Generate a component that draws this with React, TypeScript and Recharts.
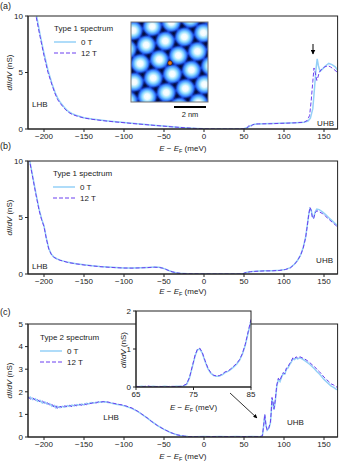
import React from 'react'
import { LineChart, Line, XAxis, YAxis } from 'recharts'

const energyTicks = [-200, -150, -100, -50, 0, 50, 100, 150]
const type1Ticks = [0, 5, 10]
const type2Ticks = [0, 1, 2, 3, 4, 5]
const insetXTicks = [65, 75, 85]
const insetYTicks = [0, 1, 2]

// (a) type 1 spectrum, 0 T and 12 T
const aE0 = [-222, -216, -210, -205, -200, -195, -190, -186, -183, -180, -175, -170, -165, -160, -150, -140, -130, -120, -110, -100, -90, -80, -70, -60, -50, -40, -30, -20, -10, 0, 10, 20, 30, 40, 50, 55, 58, 62, 66, 75, 85, 95, 105, 115, 125, 130, 133, 136, 138, 140, 141.5, 143, 145, 148, 152, 156, 160, 164, 167]
const aV0 = [13.8, 12.0, 10.3, 8.4, 6.7, 5.2, 4.0, 3.2, 2.75, 2.4, 1.95, 1.58, 1.36, 1.22, 1.0, 0.88, 0.79, 0.71, 0.64, 0.57, 0.5, 0.44, 0.38, 0.32, 0.26, 0.2, 0.14, 0.09, 0.05, 0.02, 0.01, 0, 0, 0, 0.02, 0.15, 0.3, 0.4, 0.45, 0.46, 0.48, 0.5, 0.53, 0.56, 0.6, 0.7, 0.95, 1.8, 3.5, 5.3, 6.2, 5.6, 5.1, 5.3, 5.6, 5.8, 5.7, 5.5, 5.2]
const aE12 = [-222, -216, -210, -205, -200, -195, -190, -186, -183, -180, -175, -170, -165, -160, -150, -140, -130, -120, -110, -100, -90, -80, -70, -60, -50, -40, -30, -20, -10, 0, 10, 20, 30, 40, 50, 54, 56, 58, 61, 64, 68, 75, 85, 95, 105, 115, 125, 129, 132, 134, 136, 137.5, 139, 141, 142.5, 144, 147, 151, 155, 158, 162, 167]
const aV12 = [13.5, 11.8, 10.0, 8.2, 6.5, 5.0, 3.9, 3.1, 2.6, 2.3, 1.85, 1.5, 1.3, 1.17, 0.97, 0.86, 0.77, 0.69, 0.62, 0.56, 0.49, 0.43, 0.37, 0.31, 0.25, 0.19, 0.14, 0.09, 0.05, 0.02, 0.01, 0, 0, 0, 0.02, 0.1, 0.3, 0.2, 0.38, 0.44, 0.45, 0.46, 0.47, 0.5, 0.52, 0.55, 0.6, 0.75, 1.2, 2.5, 4.2, 5.4, 5.0, 4.3, 4.6, 5.0, 5.3, 5.5, 5.6, 5.5, 5.3, 5.0]

// (b) type 1 spectrum, another site
const bE = [-222, -218, -214, -210, -206, -203, -200, -197, -194, -191, -188, -184, -180, -170, -160, -150, -140, -130, -120, -110, -100, -90, -80, -70, -62, -56, -52, -48, -44, -40, -35, -30, -20, -10, 0, 10, 20, 30, 40, 48, 51, 54, 58, 65, 75, 85, 95, 102, 108, 113, 117, 121, 124, 127, 129, 131, 132.5, 134, 135.5, 137, 139, 141, 144, 148, 152, 156, 160, 164, 167]
const bV0 = [11.4, 10.1, 8.6, 7.1, 5.7, 4.9, 4.25, 3.15, 2.25, 1.78, 1.52, 1.35, 1.23, 1.03, 0.91, 0.81, 0.73, 0.66, 0.61, 0.57, 0.54, 0.53, 0.55, 0.58, 0.61, 0.59, 0.53, 0.43, 0.31, 0.2, 0.11, 0.06, 0.02, 0.01, 0, 0, 0, 0, 0, 0, 0.1, 0.16, 0.21, 0.25, 0.28, 0.29, 0.33, 0.41, 0.56, 0.86, 1.22, 1.72, 2.35, 3.25, 4.25, 5.3, 5.8, 5.7, 5.1, 5.0, 5.5, 5.75, 5.7, 5.5, 5.25, 4.98, 4.72, 4.47, 4.27]
const bV12 = [11.3, 10.0, 8.5, 7.0, 5.6, 4.8, 4.2, 3.1, 2.2, 1.75, 1.5, 1.33, 1.22, 1.02, 0.9, 0.8, 0.72, 0.65, 0.6, 0.56, 0.53, 0.52, 0.54, 0.57, 0.6, 0.58, 0.52, 0.42, 0.3, 0.2, 0.11, 0.06, 0.02, 0.01, 0, 0, 0, 0, 0, 0, 0.1, 0.15, 0.2, 0.24, 0.27, 0.28, 0.32, 0.4, 0.55, 0.85, 1.2, 1.7, 2.3, 3.2, 4.2, 5.3, 5.9, 5.6, 5.0, 4.9, 5.4, 5.6, 5.5, 5.35, 5.1, 4.85, 4.6, 4.35, 4.15]

// (c) type 2 spectrum
const cE = [-220, -217, -214, -211, -208, -205, -202, -199, -196, -193, -190, -187, -185, -183, -180, -177, -174, -171, -168, -165, -162, -159, -156, -153, -150, -147, -144, -141, -138, -135, -132, -129, -126, -123, -120, -117, -114, -110, -106, -102, -98, -94, -90, -86, -82, -78, -74, -70, -66, -62, -58, -54, -50, -46, -42, -38, -34, -30, -25, -20, -10, 0, 10, 20, 30, 40, 50, 60, 70, 73, 74.5, 76, 77.5, 79, 81, 83, 84, 85, 86, 87.5, 89, 91, 93, 95, 97, 99, 101, 103, 105, 107, 109, 111, 113, 115, 117, 120, 123, 126, 129, 132, 135, 138, 141, 144, 147, 150, 153, 156, 159, 162, 165, 168, 170]
const cV0 = [1.72, 1.76, 1.65, 1.7, 1.58, 1.62, 1.5, 1.55, 1.45, 1.48, 1.36, 1.4, 1.28, 1.35, 1.3, 1.36, 1.32, 1.39, 1.35, 1.41, 1.37, 1.44, 1.41, 1.46, 1.42, 1.49, 1.46, 1.52, 1.49, 1.54, 1.53, 1.56, 1.55, 1.56, 1.53, 1.51, 1.48, 1.45, 1.43, 1.4, 1.36, 1.31, 1.26, 1.19, 1.11, 1.01, 0.91, 0.81, 0.7, 0.6, 0.5, 0.42, 0.34, 0.27, 0.2, 0.15, 0.1, 0.07, 0.04, 0.02, 0.01, 0.02, 0.01, 0.02, 0.01, 0.02, 0.01, 0.02, 0.01, 0.05, 0.48, 0.98, 0.52, 0.3, 0.38, 0.62, 1.05, 1.7, 1.55, 1.2, 1.55, 2.25, 2.55, 2.45, 2.65, 2.8, 2.78, 3.0, 3.05, 3.2, 3.3, 3.45, 3.42, 3.5, 3.46, 3.5, 3.45, 3.38, 3.3, 3.22, 3.12, 3.02, 2.9, 2.8, 2.68, 2.55, 2.45, 2.35, 2.25, 2.2, 2.12, 2.08, 2.05]
const cV12 = [1.78, 1.68, 1.74, 1.62, 1.66, 1.55, 1.6, 1.48, 1.52, 1.42, 1.45, 1.3, 1.38, 1.25, 1.36, 1.3, 1.38, 1.33, 1.4, 1.34, 1.42, 1.38, 1.45, 1.4, 1.47, 1.43, 1.5, 1.48, 1.53, 1.5, 1.56, 1.54, 1.57, 1.55, 1.55, 1.52, 1.5, 1.47, 1.44, 1.42, 1.38, 1.33, 1.28, 1.2, 1.12, 1.02, 0.92, 0.82, 0.7, 0.6, 0.5, 0.42, 0.34, 0.27, 0.2, 0.15, 0.1, 0.07, 0.04, 0.02, 0.01, 0.01, 0.02, 0.01, 0.02, 0.01, 0.02, 0.01, 0.02, 0.05, 0.5, 1.0, 0.5, 0.3, 0.4, 0.65, 1.1, 1.75, 1.6, 1.25, 1.6, 2.3, 2.6, 2.5, 2.7, 2.85, 2.8, 3.05, 3.1, 3.25, 3.35, 3.5, 3.45, 3.55, 3.5, 3.55, 3.5, 3.45, 3.38, 3.3, 3.2, 3.12, 3.0, 2.9, 2.78, 2.65, 2.55, 2.45, 2.35, 2.3, 2.22, 2.2, 2.15]

// (c) inset, 65-85 meV
const iE = [65, 66, 67, 68, 69, 70, 71, 72, 73, 73.8, 74.3, 74.8, 75.3, 75.7, 76.1, 76.5, 77, 77.5, 78, 78.5, 79, 79.5, 80, 80.5, 81, 81.5, 82, 82.5, 83, 83.5, 84, 84.5, 85]
const iV0 = [0.0, 0.02, 0.0, 0.02, 0.0, 0.02, 0.0, 0.02, 0.01, 0.07, 0.24, 0.53, 0.83, 0.98, 1.0, 0.9, 0.68, 0.48, 0.36, 0.3, 0.28, 0.29, 0.32, 0.38, 0.41, 0.46, 0.53, 0.6, 0.7, 0.86, 1.1, 1.42, 1.74]
const iV12 = [0.02, 0.0, 0.03, 0.0, 0.02, 0.0, 0.02, 0.01, 0.02, 0.08, 0.25, 0.55, 0.85, 1.0, 1.02, 0.92, 0.7, 0.5, 0.38, 0.31, 0.29, 0.3, 0.34, 0.4, 0.42, 0.48, 0.55, 0.62, 0.72, 0.88, 1.12, 1.45, 1.78]

const zip = (es: number[], vs: number[]) => es.map((e, i) => ({ e, v: vs[i] }))

const C0 = '#95d0f7'
const C12 = '#6a3ff0'
const INK = '#222'
const FONT = '"Liberation Sans", Arial, Helvetica, sans-serif'
const TICK = 8
const minus = (v: number) => String(v).replace('-', '\u2212')

function Panel({ top, d0, d12, yMax, yTicks }: { top: number; d0: any[]; d12: any[]; yMax: number; yTicks: number[] }) {
  return (
    <div style={{ position: 'absolute', left: 0, top }}>
      <LineChart width={339} height={149} margin={{ top: 16, right: 1.4, bottom: 0, left: 0 }}>
        <XAxis type="number" dataKey="e" domain={[-220, 167]} ticks={energyTicks} interval={0} allowDataOverflow
          height={20} tickSize={3} tickMargin={1} stroke={INK} tick={{ fontSize: TICK, fill: INK }} tickFormatter={minus} />
        <YAxis type="number" domain={[0, yMax]} ticks={yTicks} interval={0} allowDataOverflow
          width={28} tickSize={3} tickMargin={2} stroke={INK} tick={{ fontSize: TICK, fill: INK }} />
        <Line data={d0} dataKey="v" type="linear" dot={false} stroke={C0} strokeWidth={1.5} isAnimationActive={false} />
        <Line data={d12} dataKey="v" type="linear" dot={false} stroke={C12} strokeWidth={1} strokeDasharray="4 2" isAnimationActive={false} />
      </LineChart>
    </div>
  )
}

function Inset() {
  return (
    <div style={{ position: 'absolute', left: 108, top: 301 }}>
      <div style={{ position: 'absolute', left: 28, top: 10, width: 115, height: 76, background: '#fff' }} />
      <LineChart width={157} height={106} margin={{ top: 10, right: 14, bottom: 0, left: 0 }}>
        <XAxis type="number" dataKey="e" domain={[65, 85]} ticks={insetXTicks} interval={0} allowDataOverflow
          height={20} tickSize={3} tickMargin={1} stroke={INK} tick={{ fontSize: TICK, fill: INK }} />
        <YAxis type="number" domain={[0, 2]} ticks={insetYTicks} interval={0} allowDataOverflow
          width={28} tickSize={3} tickMargin={2} stroke={INK} tick={{ fontSize: TICK, fill: INK }} />
        <Line data={zip(iE, iV0)} dataKey="v" type="linear" dot={false} stroke={C0} strokeWidth={1.5} isAnimationActive={false} />
        <Line data={zip(iE, iV12)} dataKey="v" type="linear" dot={false} stroke={C12} strokeWidth={1} strokeDasharray="4 2" isAnimationActive={false} />
      </LineChart>
    </div>
  )
}

function StmImage() {
  const x0 = 131, y0 = 22, w = 77, h = 80
  const cx = 170, cy = 63
  const s = 19.5
  const th = (-12 * Math.PI) / 180
  const a1 = [s * Math.cos(th), s * Math.sin(th)]
  const a2 = [s * Math.cos(th + Math.PI / 3), s * Math.sin(th + Math.PI / 3)]
  const hx = (a1[0] + a2[0]) / 3
  const hy = (a1[1] + a2[1]) / 3
  const ox = cx - hx
  const oy = cy - hy
  const blobs: number[][] = []
  for (let i = -7; i <= 7; i++) {
    for (let j = -7; j <= 7; j++) {
      const x = ox + i * a1[0] + j * a2[0]
      const y = oy + i * a1[1] + j * a2[1]
      if (x < x0 - 25 || x > x0 + w + 25 || y < y0 - 25 || y > y0 + h + 25) continue
      blobs.push([x, y])
    }
  }
  return (
    <g>
      <defs>
        <clipPath id="stmclip"><rect x={x0} y={y0} width={w} height={h} /></clipPath>
        <radialGradient id="blob">
          <stop offset="0" stopColor="#ffffff" />
          <stop offset="0.28" stopColor="#effbff" />
          <stop offset="0.52" stopColor="#8fdcff" />
          <stop offset="0.78" stopColor="#3a86ff" />
          <stop offset="1" stopColor="#1f55ee" stopOpacity="0" />
        </radialGradient>
        <radialGradient id="hole">
          <stop offset="0" stopColor="#01072e" />
          <stop offset="0.55" stopColor="#071a80" stopOpacity="0.7" />
          <stop offset="1" stopColor="#1f55ee" stopOpacity="0" />
        </radialGradient>
      </defs>
      <g clipPath="url(#stmclip)">
        <rect x={x0} y={y0} width={w} height={h} fill="#1f55ee" />
        {blobs.map(([x, y], k) => (
          <g key={k}>
            <circle cx={x + hx} cy={y + hy} r={7} fill="url(#hole)" />
            <circle cx={x + 2 * hx} cy={y + 2 * hy} r={7} fill="url(#hole)" />
          </g>
        ))}
        {blobs.map(([x, y], k) => (
          <circle key={k} cx={x} cy={y} r={10} fill="url(#blob)" />
        ))}
      </g>
      <rect x={x0} y={y0} width={w} height={h} fill="none" stroke="#777" strokeWidth={1} />
      <circle cx={cx} cy={cy} r={2.2} fill="#e07a1f" stroke="#3a1a00" strokeWidth={0.6} />
      <line x1={174} x2={206} y1={107} y2={107} stroke="#000" strokeWidth={2} />
      <text x={190} y={114} textAnchor="middle" dominantBaseline="central" fontSize={7.5} fill={INK}>2 nm</text>
    </g>
  )
}

function YLabel({ x, y }: { x: number; y: number }) {
  return (
    <text transform={`translate(${x},${y}) rotate(-90)`} textAnchor="middle" fontSize={8} fill={INK}>
      <tspan fontStyle="italic">dI</tspan>/<tspan fontStyle="italic">dV</tspan> (nS)
    </text>
  )
}

function XLabel({ x, y }: { x: number; y: number }) {
  return (
    <text x={x} y={y} textAnchor="middle" fontSize={8} fill={INK}>
      <tspan fontStyle="italic">E</tspan> {'\u2212'} <tspan fontStyle="italic">E</tspan>
      <tspan fontSize={5.5} dy={1.5}>F</tspan>
      <tspan dy={-1.5}> (meV)</tspan>
    </text>
  )
}

function Legend({ x, y, title }: { x: number; y: number; title: string }) {
  return (
    <g fontSize={8} fill={INK}>
      <text x={x} y={y} dominantBaseline="central">{title}</text>
      <line x1={x} x2={x + 22} y1={y + 14} y2={y + 14} stroke={C0} strokeWidth={1.5} />
      <text x={x + 27} y={y + 14} dominantBaseline="central">0 T</text>
      <line x1={x} x2={x + 22} y1={y + 25} y2={y + 25} stroke={C12} strokeWidth={1} strokeDasharray="4 2" />
      <text x={x + 27} y={y + 25} dominantBaseline="central">12 T</text>
    </g>
  )
}

export default function App() {
  const svgStyle: React.CSSProperties = { position: 'absolute', left: 0, top: 0, pointerEvents: 'none' }
  return (
    <div style={{ position: 'absolute', left: 0, top: 0, width: 339, height: 461, background: '#fff', fontFamily: FONT, overflow: 'hidden' }}>
      <Panel top={0} d0={zip(aE0, aV0)} d12={zip(aE12, aV12)} yMax={10} yTicks={type1Ticks} />
      <Panel top={145} d0={zip(bE, bV0)} d12={zip(bE, bV12)} yMax={10} yTicks={type1Ticks} />
      <Panel top={308} d0={zip(cE, cV0)} d12={zip(cE, cV12)} yMax={5} yTicks={type2Ticks} />

      <svg width={339} height={461} style={svgStyle}>
        <defs>
          <marker id="head" viewBox="0 0 10 10" refX="9" refY="5" markerWidth="5" markerHeight="5" orient="auto">
            <path d="M0,0 L10,5 L0,10 z" fill="#000" />
          </marker>
        </defs>
        <rect x={28} y={16} width={309.6} height={113} fill="none" stroke={INK} />
        <rect x={28} y={161} width={309.6} height={113} fill="none" stroke={INK} />
        <rect x={28} y={324} width={309.6} height={113} fill="none" stroke={INK} />

        <g fontSize={9} fill={INK}>
          <text x={0} y={5.5} dominantBaseline="central">(a)</text>
          <text x={0} y={145.5} dominantBaseline="central">(b)</text>
          <text x={0} y={312} dominantBaseline="central">(c)</text>
        </g>

        <YLabel x={12} y={72.5} />
        <YLabel x={12} y={217.5} />
        <YLabel x={12} y={380.5} />
        <XLabel x={182.8} y={151} />
        <XLabel x={182.8} y={294} />
        <XLabel x={182.8} y={459} />

        <Legend x={54} y={28} title="Type 1 spectrum" />
        <Legend x={53} y={173} title="Type 1 spectrum" />
        <Legend x={40} y={337} title="Type 2 spectrum" />

        <g fontSize={8} fill={INK}>
          <text x={32} y={104} dominantBaseline="central">LHB</text>
          <text x={32} y={266} dominantBaseline="central">LHB</text>
          <text x={111} y={417} textAnchor="middle" dominantBaseline="central">LHB</text>
          <text x={334} y={123} textAnchor="end" dominantBaseline="central">UHB</text>
          <text x={333} y={260} textAnchor="end" dominantBaseline="central">UHB</text>
          <text x={295.5} y={422} textAnchor="middle" dominantBaseline="central">UHB</text>
        </g>

        <line x1={313} x2={313} y1={44} y2={54} stroke="#000" strokeWidth={1} markerEnd="url(#head)" />
        <StmImage />
      </svg>

      <Inset />

      <svg width={339} height={461} style={svgStyle}>
        <defs>
          <marker id="head2" viewBox="0 0 10 10" refX="9" refY="5" markerWidth="5" markerHeight="5" orient="auto">
            <path d="M0,0 L10,5 L0,10 z" fill="#000" />
          </marker>
        </defs>
        <rect x={136} y={311} width={115} height={76} fill="none" stroke={INK} />
        <YLabel x={126} y={350} />
        <XLabel x={193.5} y={410} />
        <line x1={230} y1={393} x2={257} y2={418} stroke="#000" strokeWidth={0.8} markerEnd="url(#head2)" />
      </svg>
    </div>
  )
}
